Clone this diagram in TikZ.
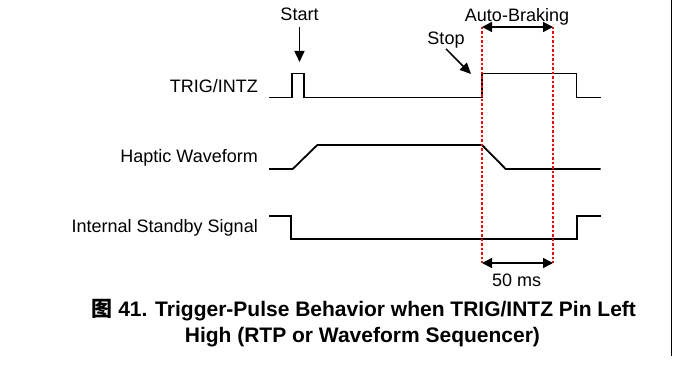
\documentclass[tikz,border=0pt]{standalone}
\usepackage{fontspec}
\setmainfont{Liberation Sans}
\newfontfamily\cjk{Noto Sans CJK SC}
\usepackage{tikz}
\usetikzlibrary{arrows.meta,positioning,calc}
\definecolor{Mark}{HTML}{FF0000}
\definecolor{Ink}{HTML}{000000}
\tikzset{
  arr/.style={-{Triangle[length=11pt,width=10pt]},line width=1.5pt,draw=Ink},
  dimarr/.style={{Triangle[length=10pt,width=10pt]}-{Triangle[length=10pt,width=10pt]},line width=1.5pt,draw=Ink},
  wave/.style={line width=1.8pt,draw=Ink,line join=miter},
  redline/.style={line width=1.8pt,draw=Mark,dash pattern=on 2.5pt off 2pt},
  lbl/.style={inner sep=0pt,font=\fontsize{18}{21}\selectfont},
  captxt/.style={inner sep=0pt,font=\fontsize{21}{26}\selectfont\bfseries}
}
\begin{document}
\begin{tikzpicture}[x=1pt,y=-1pt]
  \useasboundingbox (0,0) rectangle (674,366);
  % signal names
  \node[lbl,anchor=base east] (trig) at (258,92.3) {TRIG/INTZ};
  \node[lbl,anchor=base east] (haptic) at (258,162.7) {Haptic Waveform};
  \node[lbl,anchor=base east] (standby) at (258,232.7) {Internal Standby Signal};
  % waveforms
  \draw[wave] (269,97.5) -| (292.3,73.5) -| (304.3,97.5) -| (482,73.5) -| (576.5,97.5) -- (600.7,97.5);
  \draw[wave] (269,169) -- (292.7,169) -- (317.3,145) -- (482,145) -- (505.7,169) -- (600.7,169);
  \draw[wave] (269,216) -| (291.3,239) -| (576.7,216) -- (600.7,216);
  % markers
  \node[lbl,anchor=base] (start) at (299.5,21) {Start};
  \coordinate (startTip) at (299.5,62);
  \draw[arr] ([yshift=-6pt]start.south) -- (startTip);
  \node[lbl,anchor=base] (stop) at (446,45) {Stop};
  \coordinate (stopTip) at (471,74);
  \draw[arr] (stop.south) -- (stopTip);
  \coordinate (brakeA) at (482,27);
  \coordinate (brakeB) at (553,27);
  \coordinate (msA) at (482,263);
  \coordinate (msB) at (553,263);
  \draw[redline] (brakeA) -- (msA);
  \draw[redline] (brakeB) -- (msB);
  \node[lbl,anchor=base] (brake) at (517,21.7) {Auto-Braking};
  \draw[dimarr] (brakeA) -- (brakeB);
  \draw[dimarr] (msA) -- (msB);
  \node[lbl,anchor=base] (ms) at (516.7,286) {50 ms};
  % caption
  \node[captxt,anchor=base] (cap1) at (363.7,316.7) {{\cjk 图} 41. Trigger-Pulse Behavior when TRIG/INTZ Pin Left};
  \node[captxt,anchor=base] (cap2) at (362.4,342.3) {High (RTP or Waveform Sequencer)};
  % page edge
  \draw[line width=1pt,draw=Ink] (671.7,0) -- (671.7,356);
\end{tikzpicture}
\end{document}
